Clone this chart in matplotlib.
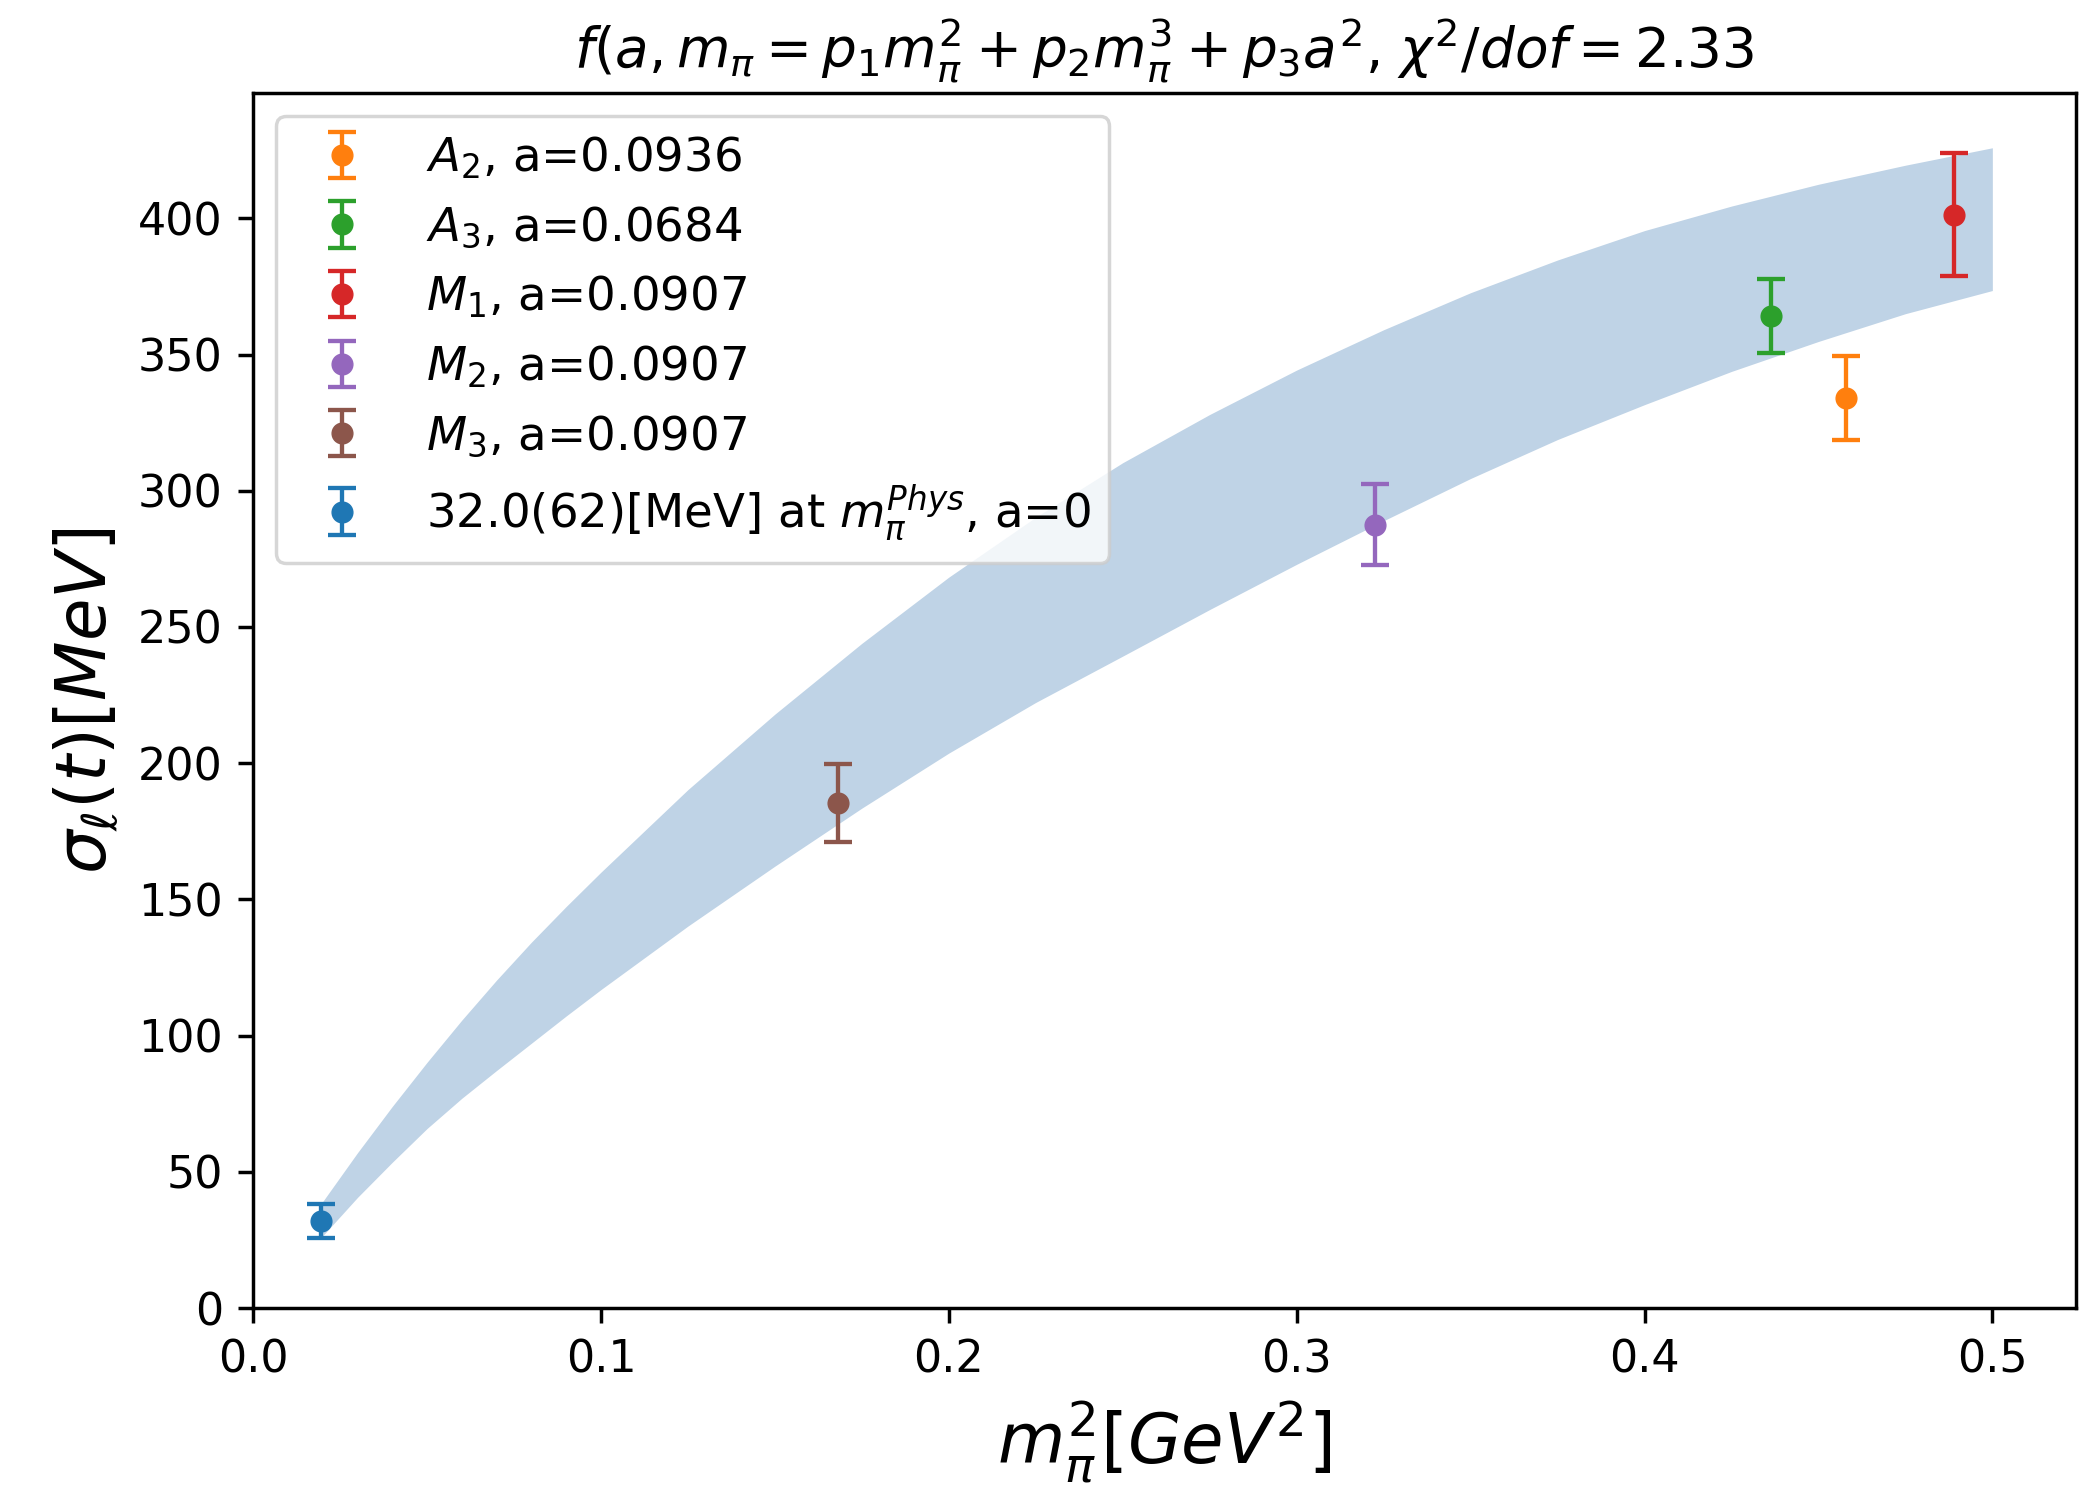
import matplotlib
matplotlib.use("Agg")
import matplotlib.pyplot as plt
import numpy as np

# size factor: the original was drawn at ~311 dpi, we draw at 100 dpi
S = 3.11

# ensembles
names = [r'$A_2$, a=0.0936', r'$A_3$, a=0.0684', r'$M_1$, a=0.0907',
         r'$M_2$, a=0.0907', r'$M_3$, a=0.0907']
colors = ['#ff7f0e', '#2ca02c', '#d62728', '#9467bd', '#8c564b']
mpi2 = [0.4578, 0.4365, 0.4891, 0.3224, 0.1681]
sigma = [334.1, 364.1, 401.4, 287.5, 185.4]
sigma_err = [15.4, 13.6, 22.4, 14.8, 14.4]

# extrapolated point at the physical pion mass
phys_label = r'32.0(62)[MeV] at $m_\pi^{Phys}$, a=0'
phys_x = [0.0195]
phys_y = [32.0]
phys_err = [6.2]

# fit band edges
band_x = [0.0195, 0.03, 0.04, 0.05, 0.06, 0.07, 0.08, 0.09, 0.10,
          0.125, 0.150, 0.175, 0.200, 0.225, 0.250, 0.275, 0.300, 0.325,
          0.350, 0.375, 0.400, 0.425, 0.450, 0.475, 0.500]
band_hi = [38.2, 57.0, 74.0, 90.2, 105.7, 120.4, 134.3, 147.4, 160.0,
           190.3, 218.0, 244.0, 268.3, 290.3, 310.3, 328.0, 344.3, 359.1,
           372.7, 384.7, 395.5, 404.5, 412.5, 419.5, 425.9]
band_lo = [25.8, 40.6, 53.5, 65.9, 77.0, 87.2, 97.2, 107.2, 116.9,
           140.2, 162.2, 183.5, 203.7, 222.3, 239.3, 256.4, 273.0, 289.0,
           304.5, 318.8, 331.6, 343.8, 354.8, 365.0, 373.5]

plt.rcParams['font.family'] = 'DejaVu Sans'
plt.rcParams['mathtext.fontset'] = 'dejavusans'

fig = plt.figure(figsize=(20.8, 14.93), dpi=100)
ax = fig.add_axes([0.1217, 0.1239, 0.8763, 0.8138])

ax.fill_between(band_x, band_lo, band_hi, color='#bfd3e6', linewidth=0, zorder=1)

# errorbars for every ensemble
for i in range(len(names)):
    ax.errorbar(mpi2[i], sigma[i], yerr=sigma_err[i], fmt='o', color=colors[i],
                markersize=4.8 * S, elinewidth=1.0 * S, capsize=3.2 * S,
                capthick=1.0 * S, label=names[i], zorder=3)

ax.errorbar(phys_x, phys_y, yerr=phys_err, fmt='o', color='#1f77b4',
            markersize=4.8 * S, elinewidth=1.0 * S, capsize=3.2 * S,
            capthick=1.0 * S, label=phys_label, zorder=3)

ax.set_xlim(0, 0.524)
ax.set_ylim(0, 446)
ax.set_xticks([0.0, 0.1, 0.2, 0.3, 0.4, 0.5])
ax.set_yticks([0, 50, 100, 150, 200, 250, 300, 350, 400])

for sp in ax.spines.values():
    sp.set_linewidth(0.8 * S)
ax.tick_params(labelsize=10.3 * S, length=3.5 * S, width=0.8 * S, pad=3.5 * S)

ax.set_xlabel(r'$m_\pi^2[GeV^2]$', fontsize=16 * S, labelpad=4 * S)
ax.set_ylabel(r'$\sigma_\ell(t)[MeV]$', fontsize=16 * S, labelpad=4 * S)
ax.set_title(r'$f(a, m_\pi = p_1m_\pi^2 + p_2m_\pi^3 + p_3a^2$, $\chi^2/dof = 2.33$',
             fontsize=12.7 * S, pad=6 * S)

leg = ax.legend(loc='upper left', fontsize=10.8 * S, framealpha=0.8)
leg.get_frame().set_linewidth(0.8 * S)

fig.savefig('out.png', dpi=100)
